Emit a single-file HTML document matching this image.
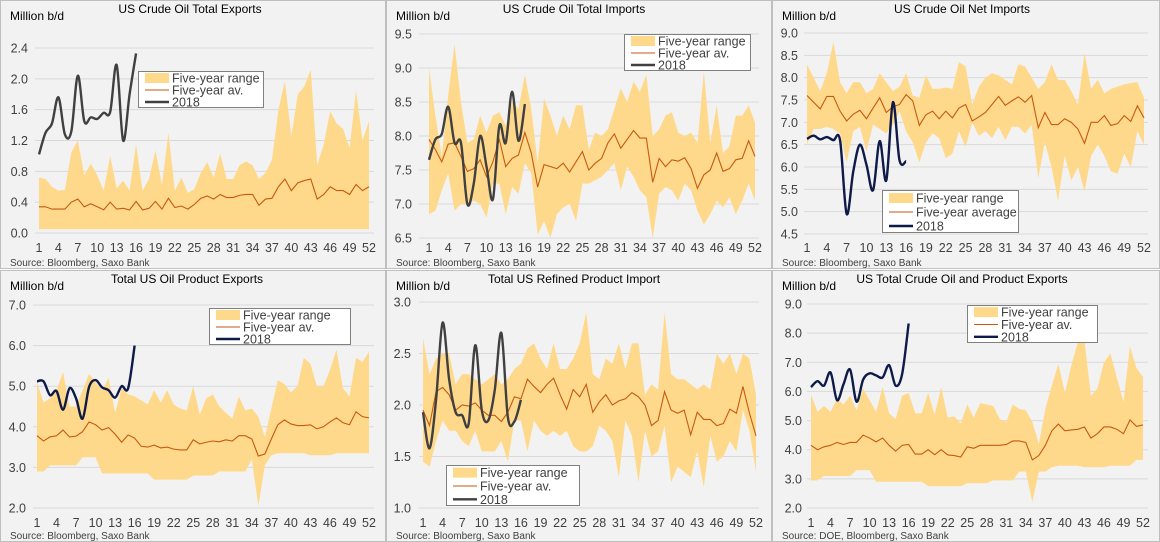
<!DOCTYPE html>
<html><head><meta charset="utf-8"><style>
body{margin:0;background:#fff;width:1160px;height:542px;overflow:hidden}
svg{display:block;font-family:"Liberation Sans","DejaVu Sans",sans-serif}
</style></head><body>
<svg id="root" width="1160" height="542" viewBox="0 0 1160 542"></svg>
<script>
const weeks = Array.from({length:52},(_,i)=>i+1);
const xTickLabels = [1,4,7,10,13,16,19,22,25,28,31,34,37,40,43,46,49,52];

const p1Max=[0.72,0.7,0.6,0.55,0.56,1.05,1.2,0.75,0.9,0.75,0.55,1.0,0.58,0.68,0.55,1.15,0.55,0.7,1.07,0.62,1.3,0.55,0.72,0.52,0.57,0.78,0.92,0.72,1.03,0.7,0.7,0.88,0.93,0.88,0.7,0.78,0.95,1.6,1.97,1.25,1.8,1.9,2.12,0.88,1.15,1.58,1.42,1.35,1.1,1.85,1.2,1.45];
const p1Min=Array(52).fill(0.05);
const p1Avg=[0.34,0.34,0.31,0.31,0.31,0.4,0.44,0.34,0.38,0.34,0.3,0.4,0.31,0.32,0.3,0.41,0.3,0.32,0.41,0.31,0.45,0.33,0.35,0.31,0.37,0.45,0.48,0.44,0.5,0.46,0.46,0.49,0.5,0.5,0.36,0.44,0.45,0.6,0.7,0.55,0.65,0.68,0.7,0.44,0.5,0.6,0.55,0.55,0.5,0.63,0.55,0.6];
const p1Y18=[1.02,1.3,1.42,1.76,1.28,1.32,2.04,1.45,1.5,1.48,1.56,1.57,2.18,1.2,1.8,2.33];
const p1Ticks=[0,0.4,0.8,1.2,1.6,2.0,2.4];

const p2Max=[9.0,8.3,7.7,8.6,9.35,8.5,7.9,7.95,8.3,8.05,8.3,8.35,8.15,8.5,8.4,8.9,8.4,7.6,8.55,8.3,8.0,8.3,8.1,8.45,8.45,7.8,8.05,8.0,8.1,8.4,8.7,8.5,8.8,8.65,8.9,8.0,8.1,8.3,8.35,8.05,8.0,8.05,7.9,8.95,7.9,8.45,7.75,7.85,8.3,8.3,8.45,8.2];
const p2Min=[6.85,6.9,7.2,7.45,6.9,7.0,7.0,7.05,7.0,6.8,7.3,7.3,6.85,7.25,7.15,7.6,7.45,6.55,6.75,6.5,6.85,6.95,7.0,6.75,7.3,7.3,7.35,7.4,7.5,7.6,7.2,7.55,7.4,7.2,7.1,6.5,7.15,7.25,7.2,7.05,7.3,7.2,6.9,6.7,6.85,7.05,6.95,7.1,6.85,7.05,7.3,7.05];
const p2Avg=[7.95,7.8,7.62,7.88,7.9,7.7,7.48,7.52,7.65,7.4,7.62,7.95,7.55,7.67,7.72,8.05,7.75,7.25,7.58,7.55,7.52,7.6,7.47,7.62,7.77,7.5,7.6,7.67,7.9,8.03,7.82,7.95,8.08,7.97,7.97,7.32,7.67,7.55,7.65,7.63,7.68,7.52,7.23,7.43,7.5,7.75,7.48,7.52,7.65,7.67,7.93,7.7];
const p2Y18=[7.65,7.95,8.03,8.43,7.9,7.9,7.0,7.3,8.0,7.55,7.07,8.15,7.9,8.65,7.93,8.47];
const p2Ticks=[6.5,7.0,7.5,8.0,8.5,9.0,9.5];

const p3Max=[8.3,8.0,7.7,8.1,8.8,7.9,7.65,7.9,7.9,7.65,7.75,8.1,7.9,7.7,7.8,8.1,7.6,7.55,8.05,7.75,7.75,7.78,7.75,8.35,8.25,7.4,7.8,8.0,8.1,8.05,7.95,7.85,8.3,8.25,8.0,7.75,7.9,8.3,7.95,7.95,7.7,7.4,8.55,7.75,7.95,7.65,7.75,7.8,7.85,7.88,7.9,7.55];
const p3Min=[6.5,6.85,6.85,6.9,6.85,6.75,6.1,6.8,6.9,6.35,6.95,6.85,6.75,6.95,7.25,6.8,6.55,6.1,6.55,6.75,6.65,6.2,6.3,6.8,6.45,7.0,6.7,6.8,6.65,6.9,6.6,6.9,6.9,6.75,6.95,5.75,6.55,6.0,5.25,6.25,5.7,6.0,5.45,6.25,6.5,6.25,5.9,5.85,6.3,6.0,6.8,6.5];
const p3Avg=[7.6,7.45,7.3,7.58,7.58,7.25,7.03,7.18,7.27,7.08,7.32,7.55,7.22,7.35,7.4,7.62,7.48,6.93,7.17,7.25,7.08,7.25,7.1,7.32,7.4,7.03,7.12,7.22,7.4,7.58,7.38,7.48,7.57,7.45,7.6,6.88,7.22,6.95,6.95,7.08,7.0,6.85,6.53,7.0,7.0,7.15,6.93,6.97,7.15,7.02,7.37,7.1];
const p3Y18=[6.63,6.7,6.62,6.67,6.6,6.6,4.95,5.9,6.5,6.05,5.48,6.58,5.7,7.45,6.15,6.13];
const p3Ticks=[4.5,5.0,5.5,6.0,6.5,7.0,7.5,8.0,8.5,9.0];

const p4Max=[5.1,4.6,4.7,4.9,5.35,4.5,4.5,4.9,5.3,5.1,4.9,5.2,4.35,4.95,4.8,4.75,4.65,4.55,4.9,4.6,4.9,4.55,4.45,4.4,5.0,4.3,4.7,4.8,4.5,4.35,4.2,4.75,4.4,4.45,4.25,3.75,4.45,5.15,5.05,4.85,5.0,5.7,5.55,5.0,5.0,5.4,5.9,4.95,4.75,5.7,5.6,5.85];
const p4Min=[2.9,2.9,3.05,3.05,3.05,3.05,3.05,3.25,3.25,3.25,2.85,2.85,2.85,2.85,2.85,2.85,2.85,2.85,2.7,2.7,2.7,2.7,2.7,2.7,2.8,2.8,2.8,2.8,2.9,2.9,2.9,2.9,2.9,3.2,2.05,3.05,3.3,3.35,3.35,3.35,3.35,3.35,3.3,3.3,3.3,3.3,3.35,3.35,3.35,3.35,3.35,3.35];
const p4Avg=[3.78,3.65,3.75,3.78,3.92,3.75,3.77,3.88,4.12,4.05,3.92,3.98,3.82,3.62,3.8,3.72,3.52,3.5,3.55,3.48,3.5,3.45,3.43,3.43,3.68,3.58,3.62,3.65,3.63,3.68,3.65,3.78,3.78,3.7,3.28,3.33,3.7,4.05,4.17,4.07,4.03,4.03,4.05,3.95,4.0,4.12,4.22,4.1,4.05,4.37,4.25,4.22];
const p4Y18=[5.12,5.12,4.78,4.88,4.42,4.95,4.7,4.2,4.98,5.15,4.97,4.9,4.72,5.0,4.95,6.0];
const p4Ticks=[2.0,3.0,4.0,5.0,6.0,7.0];

const p5Max=[2.65,2.3,2.45,2.5,2.5,2.2,2.3,2.3,2.25,2.2,2.25,2.3,2.2,2.25,2.35,2.4,2.55,2.6,2.45,2.35,2.6,2.35,2.35,2.45,2.6,2.9,2.3,2.25,2.45,2.4,2.6,2.35,2.6,2.6,2.1,2.2,2.15,2.9,2.3,2.25,2.25,2.2,2.15,2.2,2.15,2.5,2.4,2.5,2.3,2.5,2.45,2.1];
const p5Min=[1.45,1.4,1.65,1.85,1.75,1.75,1.65,1.6,1.75,1.55,1.55,1.55,1.65,1.45,1.85,1.85,1.55,1.85,1.75,1.7,1.75,1.7,1.75,1.6,1.55,1.55,1.6,1.8,1.75,1.65,1.3,1.85,1.7,1.25,1.75,1.5,1.55,1.8,1.25,1.4,1.35,1.3,1.55,1.2,1.7,1.45,1.5,1.65,1.55,1.95,1.75,1.35];
const p5Avg=[1.95,1.8,2.13,2.17,2.1,1.95,2.0,1.99,2.02,1.95,1.9,1.9,1.84,1.93,2.08,2.06,2.25,2.18,2.12,2.2,2.26,2.1,1.96,2.15,2.08,2.2,1.93,2.03,2.1,2.0,2.04,2.06,2.12,2.08,2.0,1.8,1.85,2.13,1.95,1.92,1.95,1.71,1.93,1.86,1.86,1.8,1.82,1.96,1.92,2.18,1.92,1.7];
const p5Y18=[1.93,1.58,2.05,2.8,2.25,1.93,1.9,1.82,2.58,1.95,1.85,2.15,2.7,1.88,1.84,2.05];
const p5Ticks=[1.0,1.5,2.0,2.5,3.0];

const p6Max=[5.9,5.3,5.5,5.3,5.75,5.55,5.85,5.35,6.1,5.7,5.3,6.15,5.25,5.05,5.85,5.95,5.25,5.25,5.95,5.2,6.15,5.1,5.15,4.9,5.55,5.1,5.6,5.55,5.5,5.05,4.95,5.55,5.4,5.35,4.95,4.2,5.4,6.2,6.95,5.95,6.9,7.7,7.75,5.85,6.1,7.0,7.3,6.45,5.65,7.55,6.8,6.5];
const p6Min=[2.95,2.95,3.1,3.1,3.1,3.1,3.1,3.3,3.3,3.3,2.9,2.9,2.9,2.9,2.9,2.9,2.9,2.9,2.75,2.75,2.75,2.75,2.75,2.75,2.85,2.85,2.85,2.85,2.95,2.95,2.95,2.95,3.25,3.25,2.2,3.25,3.25,3.4,3.45,3.45,3.45,3.45,3.4,3.4,3.4,3.4,3.45,3.45,3.45,3.45,3.65,3.65];
const p6Avg=[4.15,4.0,4.1,4.15,4.25,4.18,4.25,4.25,4.5,4.4,4.27,4.4,4.15,3.95,4.15,4.18,3.85,3.85,4.0,3.83,4.0,3.82,3.8,3.75,4.1,4.05,4.15,4.15,4.15,4.15,4.18,4.3,4.3,4.25,3.65,3.8,4.15,4.65,4.88,4.65,4.68,4.7,4.78,4.4,4.55,4.78,4.78,4.7,4.55,5.02,4.8,4.85];
const p6Y18=[6.15,6.35,6.2,6.65,5.7,6.25,6.75,5.65,6.4,6.62,6.55,6.48,6.9,6.2,6.6,8.33];
const p6Ticks=[2.0,3.0,4.0,5.0,6.0,7.0,8.0,9.0];

const NS="http://www.w3.org/2000/svg";
const root=document.getElementById('root');
function mk(tag,attrs,parent,text){const e=document.createElementNS(NS,tag);for(const k in attrs)e.setAttribute(k,attrs[k]);if(text!==undefined)e.textContent=text;parent.appendChild(e);return e;}
function smooth(pts){let d=`M${pts[0][0]},${pts[0][1]}`;for(let i=0;i<pts.length-1;i++){const p0=pts[i-1]||pts[i],p1=pts[i],p2=pts[i+1],p3=pts[i+2]||p2;const t=1/6;d+=` C${p1[0]+(p2[0]-p0[0])*t},${p1[1]+(p2[1]-p0[1])*t} ${p2[0]-(p3[0]-p1[0])*t},${p2[1]-(p3[1]-p1[1])*t} ${p2[0]},${p2[1]}`;}return d;}

function drawPanel(c){
  const g=mk('g',{},root);
  
  
  const bg=mk('rect',{x:c.px+0.5,y:c.py+0.5,width:c.pw,height:c.ph,fill:'#f2f2f2',stroke:'#bfbfbf'},g);
  
  
  const ymin=c.ticks[0],ymax=c.ticks[c.ticks.length-1];
  const Y=v=>c.yBot-(v-ymin)/(ymax-ymin)*(c.yBot-c.yTop);
  const X=w=>c.x1+(w-1)/51*(c.x52-c.x1);
  c.ticks.forEach(t=>{
    const l=mk('line',{x1:c.gx0,x2:c.gx1,y1:Y(t),y2:Y(t),stroke:'#d9d9d9','stroke-width':1},g);
    
    
    const tx=mk('text',{x:c.lx,y:Y(t)+4.5,'text-anchor':'end','font-size':12.5,fill:'#404040'},g,t.toFixed(1));
    
    
  });
  let d='M'+weeks.map((w,i)=>X(w)+','+Y(c.max[i])).join(' L');
  d+=' L'+weeks.slice().reverse().map(w=>X(w)+','+Y(c.min[w-1])).join(' L')+' Z';
  const band=mk('path',{d:d,fill:'#ffd98b'},g);
  
  
  const avg=mk('polyline',{points:weeks.map((w,i)=>X(w)+','+Y(c.avg[i])).join(' '),fill:'none',stroke:'#c55a11','stroke-width':1.1},g);
  
  
  const l18=mk('path',{d:smooth(c.y18.map((v,i)=>[X(i+1),Y(v)])),fill:'none',stroke:c.col,'stroke-width':2.4},g);
  
  
  xTickLabels.forEach(w=>{
    const t=mk('text',{x:X(w),y:c.xly,'text-anchor':'middle','font-size':12.5,fill:'#404040'},g,String(w));
    
    
  });
  const ti=mk('text',{x:c.tx,y:c.py+13,'text-anchor':'middle','font-size':12,fill:'#000'},g,c.title);
  
  
  const un=mk('text',{x:c.px+10,y:c.py+20,'font-size':12,fill:'#000'},g,'Million b/d');
  
  
  const so=mk('text',{x:c.px+10,y:c.py+c.ph-2,'font-size':10,fill:'#404040'},g,c.source);
  
  
  const L=c.leg;
  const lg=mk('g',{},g);
  
  
  mk('rect',{x:L.x+0.5,y:L.y+0.5,width:L.w,height:L.h,fill:'#fff',stroke:'#808080'},lg);
  const rh=L.h/3;
  const labels=['Five-year range',c.avgLabel,'2018'];
  labels.forEach((lab,i)=>{
    const cy=L.y+rh*(i+0.5)+1;
    let sw;
    if(i===0) sw=mk('rect',{x:L.x+7,y:cy-5,width:24,height:10,fill:'#ffd98b'},lg);
    else sw=mk('line',{x1:L.x+7,x2:L.x+31,y1:cy,y2:cy,stroke:i===1?'#c55a11':c.col,'stroke-width':i===1?1.1:2.4},lg);
    
    
    const t=mk('text',{x:L.x+34,y:cy+4.5,'font-size':12.5,fill:'#404040'},lg,lab);
    
    
  });
}
const DG='#404040',NV='#0e1a47';
drawPanel({name:'crude-exports-chart',px:0,py:0,pw:385,ph:268,title:'US Crude Oil Total Exports',tx:190,ticks:p1Ticks,max:p1Max,min:p1Min,avg:p1Avg,y18:p1Y18,col:DG,yTop:48,yBot:233,x1:39,x52:369,gx0:35,gx1:374,lx:28,xly:252,source:'Source: Bloomberg, Saxo Bank',avgLabel:'Five-year av.',leg:{x:138,y:71,w:125,h:36}});
drawPanel({name:'crude-imports-chart',px:386,py:0,pw:385,ph:268,title:'US Crude Oil Total Imports',tx:574,ticks:p2Ticks,max:p2Max,min:p2Min,avg:p2Avg,y18:p2Y18,col:DG,yTop:34,yBot:238,x1:429,x52:755,gx0:419,gx1:759,lx:412,xly:252,source:'Source: Bloomberg, Saxo Bank',avgLabel:'Five-year av.',leg:{x:624,y:34,w:126,h:36}});
drawPanel({name:'crude-net-imports-chart',px:772,py:0,pw:387,ph:268,title:'US Crude Oil Net Imports',tx:962,ticks:p3Ticks,max:p3Max,min:p3Min,avg:p3Avg,y18:p3Y18,col:NV,yTop:33,yBot:234,x1:807,x52:1144,gx0:804,gx1:1148,lx:798,xly:252,source:'Source: Bloomberg, Saxo Bank',avgLabel:'Five-year average',leg:{x:882,y:190,w:136,h:42}});
drawPanel({name:'product-exports-chart',px:0,py:270,pw:385,ph:271,title:'Total US Oil Product Exports',tx:187,ticks:p4Ticks,max:p4Max,min:p4Min,avg:p4Avg,y18:p4Y18,col:NV,yTop:305,yBot:508,x1:37,x52:369,gx0:33,gx1:374,lx:26,xly:527,source:'Source: Bloomberg, Saxo Bank',avgLabel:'Five-year av.',leg:{x:209,y:308,w:141,h:36}});
drawPanel({name:'refined-product-imports-chart',px:386,py:270,pw:385,ph:271,title:'Total US Refined Product Import',tx:574,ticks:p5Ticks,max:p5Max,min:p5Min,avg:p5Avg,y18:p5Y18,col:DG,yTop:302,yBot:508,x1:423,x52:756,gx0:419,gx1:759,lx:411,xly:527,source:'Source: Bloomberg, Saxo Bank',avgLabel:'Five-year av.',leg:{x:446,y:465,w:133,h:40}});
drawPanel({name:'total-exports-chart',px:772,py:270,pw:387,ph:271,title:'US Total Crude Oil and Product Exports',tx:962,ticks:p6Ticks,max:p6Max,min:p6Min,avg:p6Avg,y18:p6Y18,col:NV,yTop:304,yBot:508,x1:811,x52:1143,gx0:807,gx1:1148,lx:802,xly:527,source:'Source: DOE, Bloomberg, Saxo Bank',avgLabel:'Five-year av.',leg:{x:967,y:305,w:130,h:37}});
</script>
</body></html>
